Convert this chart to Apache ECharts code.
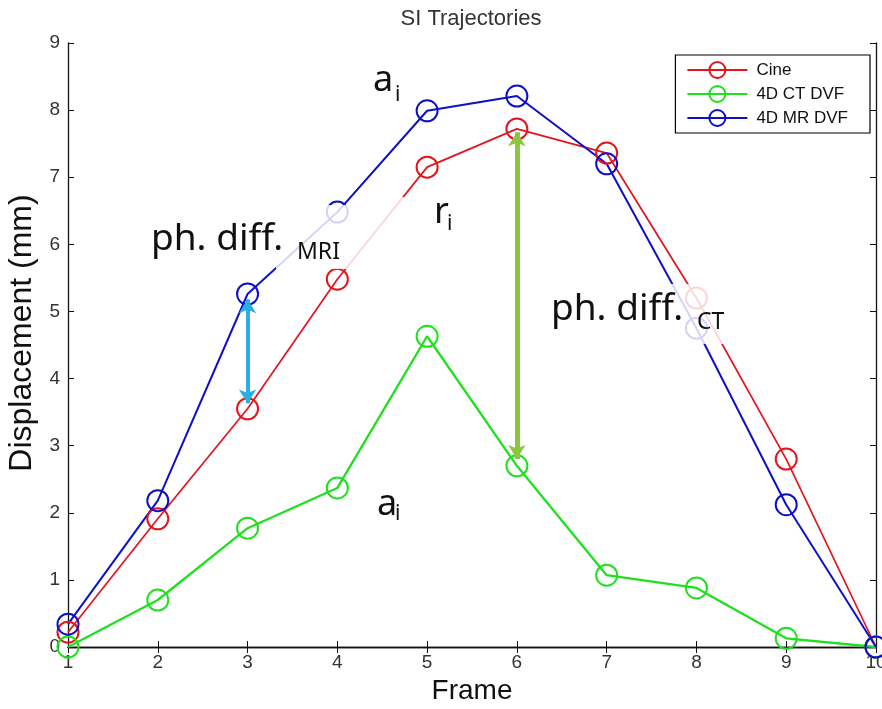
<!DOCTYPE html>
<html>
<head>
<meta charset="utf-8">
<script src="https://cdn.jsdelivr.net/npm/echarts@6/dist/echarts.min.js"></script>
<style>
  html, body { margin: 0; padding: 0; background: #fff; }
  #chart { width: 882px; height: 709px; }
</style>
</head>
<body>
<div id="chart"></div>
<script>
// Frame numbers and SI displacement (mm) per trajectory
const frames = [1, 2, 3, 4, 5, 6, 7, 8, 9, 10];
const cine   = [0.22, 1.91, 3.55, 5.48, 7.15, 7.72, 7.36, 5.20, 2.80, 0.00];
const ct4d   = [0.00, 0.70, 1.77, 2.37, 4.63, 2.70, 1.07, 0.88, 0.13, 0.00];
const mr4d   = [0.34, 2.18, 5.26, 6.48, 7.99, 8.21, 7.20, 4.75, 2.12, 0.00];
const seriesNames = ['Cine', '4D CT DVF', '4D MR DVF'];
const yTicks = [0, 1, 2, 3, 4, 5, 6, 7, 8, 9];

// Frames where the phase differences are marked
const mriDiffFrame = 3;
const ctDiffFrame = 6;

const chart = echarts.init(document.getElementById('chart'), null, { renderer: 'canvas' });

const axisFont = 'Liberation Sans, Arial, sans-serif';
const noteFont = 'Noto Sans, Open Sans, sans-serif';

function pairs(vals) { return frames.map((f, i) => [f, vals[i]]); }

function lineSeries(name, vals, color, width) {
  return {
    name: name,
    type: 'line',
    data: pairs(vals),
    symbol: 'circle',
    symbolSize: 21,
    clip: false,
    z: 3,
    lineStyle: { color: color, width: width },
    itemStyle: { color: 'rgba(255,255,255,0)', borderColor: color, borderWidth: 2 },
    emphasis: { disabled: true }
  };
}

const idx = f => frames.indexOf(f);

function arrowLine(x, yFrom, yTo, color, width) {
  return {
    silent: true,
    symbol: ['arrow', 'arrow'],
    symbolSize: [13, 14],
    label: { show: false },
    lineStyle: { color: color, width: width, type: 'solid', opacity: 1 },
    emphasis: { disabled: true },
    data: [[{ coord: [x, yFrom] }, { coord: [x, yTo] }]]
  };
}

const redS = lineSeries(seriesNames[0], cine, '#e3141c', 1.7);
const greenS = lineSeries(seriesNames[1], ct4d, '#1fe01f', 2.3);
const blueS = lineSeries(seriesNames[2], mr4d, '#0d10c8', 2);

// arrow between MR and Cine at the MRI phase-difference frame
blueS.markLine = arrowLine(mriDiffFrame, mr4d[idx(mriDiffFrame)] - 0.08, cine[idx(mriDiffFrame)] + 0.08, '#2aaee3', 4);
// arrow between Cine and CT at the CT phase-difference frame
greenS.markLine = arrowLine(ctDiffFrame, cine[idx(ctDiffFrame)] - 0.05, ct4d[idx(ctDiffFrame)] + 0.1, '#8cc63f', 5);

// Annotation text with white backing boxes
function box(x, y, w, h) {
  return { type: 'rect', z: 50, silent: true, shape: { x: x, y: y, width: w, height: h },
           style: { fill: 'rgba(255,255,255,0.82)' } };
}
function note(x, y, text, size) {
  return { type: 'text', z: 60, silent: true, x: x, y: y,
           style: { text: text, font: size + 'px ' + noteFont, fill: '#111', verticalAlign: 'top' } };
}

const option = {
  backgroundColor: '#ffffff',
  animation: false,
  grid: { left: 68, right: 6, top: 43, bottom: 62, containLabel: false, outerBoundsMode: 'none' },
  legend: {
    orient: 'vertical',
    right: 12,
    top: 55,
    data: seriesNames,
    itemWidth: 60,
    itemHeight: 20,
    itemGap: 6,
    padding: [6, 22, 6, 11],
    borderColor: '#000',
    borderWidth: 1.2,
    backgroundColor: '#fff',
    textStyle: { fontFamily: axisFont, fontSize: 17, color: '#111', padding: [0, 0, 0, 4] },
    selectedMode: false
  },
  xAxis: [{
    type: 'value', min: 1, max: 10, interval: 1,
    name: 'Frame', nameLocation: 'middle', nameGap: 30,
    nameTextStyle: { fontFamily: axisFont, fontSize: 28, color: '#111' },
    axisLine: { lineStyle: { color: '#111', width: 1.3 } },
    axisTick: { inside: true, length: 6, lineStyle: { color: '#111' } },
    axisLabel: { fontFamily: axisFont, fontSize: 19, color: '#333', margin: 6 },
    splitLine: { show: false }
  }, {
    type: 'value', min: 1, max: 10, interval: 1, position: 'top',
    axisLine: { show: true, lineStyle: { color: '#111', width: 1.3 } },
    axisTick: { inside: true, length: 6, lineStyle: { color: '#111' } },
    axisLabel: { show: false }, splitLine: { show: false }
  }],
  yAxis: [{
    type: 'value', min: 0, max: 9, interval: 1,
    name: 'Displacement (mm)', nameLocation: 'middle', nameGap: 21,
    nameTextStyle: { fontFamily: axisFont, fontSize: 32, color: '#111', padding: [0, 0, 0, 24] },
    axisLine: { show: true, lineStyle: { color: '#111', width: 1.3 } },
    axisTick: { show: true, inside: true, length: 6, lineStyle: { color: '#111' } },
    axisLabel: { fontFamily: axisFont, fontSize: 19, color: '#333', margin: 8,
                 formatter: v => yTicks.includes(v) ? String(v) : '' },
    splitLine: { show: false }
  }, {
    type: 'value', min: 0, max: 9, interval: 1, position: 'right',
    axisLine: { show: true, lineStyle: { color: '#111', width: 1.3 } },
    axisTick: { show: true, inside: true, length: 6, lineStyle: { color: '#111' } },
    axisLabel: { show: false }, splitLine: { show: false }
  }],
  series: [redS, greenS, blueS],
  graphic: [
    { type: 'text', z: 60, silent: true, x: 471, y: 8,
      style: { text: 'SI Trajectories', font: '22px ' + axisFont, fill: '#333', textAlign: 'center' } },
    box(276, 205, 76, 64),
    box(352, 197, 114, 66),
    box(546, 284, 256, 60),
    note(151, 221, 'ph. diff.', 37),
    note(297, 241, 'MRI', 23),
    note(373, 63, 'a', 36),
    note(395, 85, 'i', 21),
    note(434, 195, 'r', 36),
    note(447, 214, 'i', 21),
    note(377, 487, 'a', 36),
    note(395, 504, 'i', 21),
    note(551, 291, 'ph. diff.', 37),
    note(697, 311, 'CT', 23)
  ]
};

chart.setOption(option);
</script>
</body>
</html>
